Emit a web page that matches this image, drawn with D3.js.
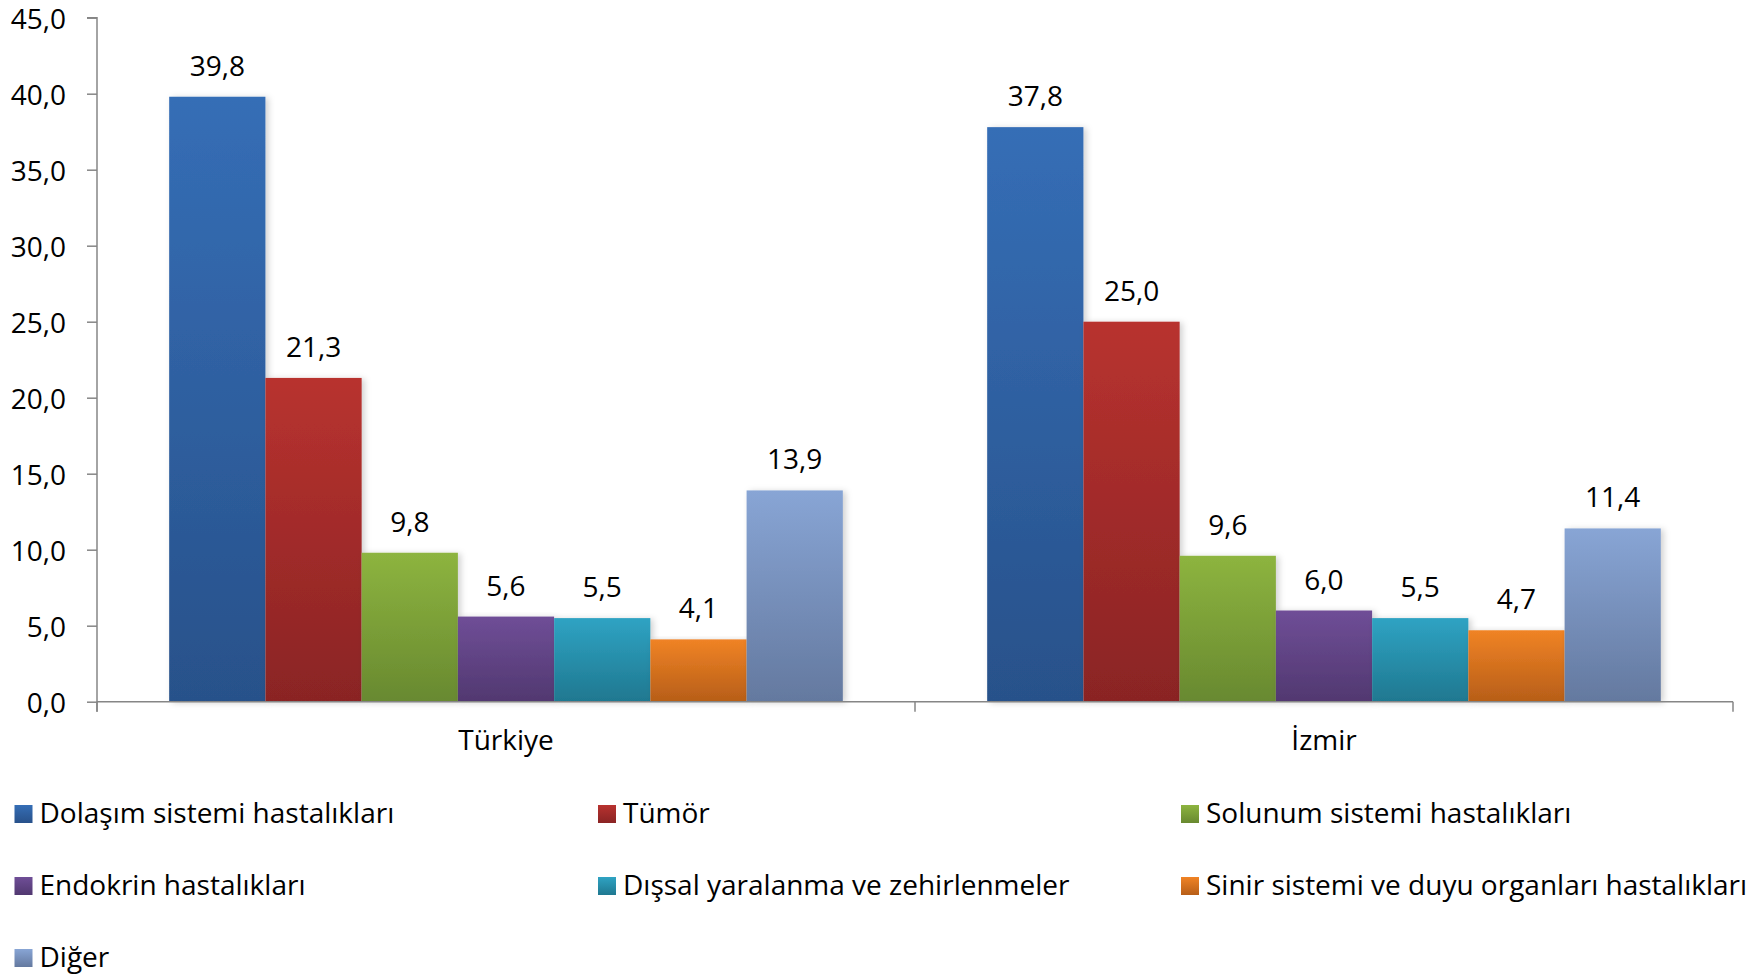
<!DOCTYPE html>
<html>
<head>
<meta charset="utf-8">
<script src="https://cdn.jsdelivr.net/npm/d3@7"></script>
<style>
  html, body { margin: 0; padding: 0; background: #fff; }
  svg { display: block; }
  text { font-family: "Open Sans", "Noto Sans", sans-serif; fill: #000; }
</style>
</head>
<body>
<svg id="chart" width="1755" height="975"></svg>
<script>
// ---- data ----
const categories = ["Türkiye", "İzmir"];
const seriesNames = [
  "Dolaşım sistemi hastalıkları",
  "Tümör",
  "Solunum sistemi hastalıkları",
  "Endokrin hastalıkları",
  "Dışsal yaralanma ve zehirlenmeler",
  "Sinir sistemi ve duyu organları hastalıkları",
  "Diğer"
];
const turkiyeValues = [39.8, 21.3, 9.8, 5.6, 5.5, 4.1, 13.9];
const izmirValues   = [37.8, 25.0, 9.6, 6.0, 5.5, 4.7, 11.4];
const yTicks = [0, 5, 10, 15, 20, 25, 30, 35, 40, 45];

// ---- styles ----
const colorsTop    = ["#356EB6", "#B8322F", "#8DB43F", "#6F4E97", "#2FA3C3", "#F08325", "#88A5D5"];
const colorsBottom = ["#28518A", "#8A2424", "#688930", "#513870", "#1F7890", "#B75E18", "#64799F"];
const fontSize = 28;

const svg = d3.select("#chart");
const defs = svg.append("defs");
seriesNames.forEach((s, i) => {
  const g = defs.append("linearGradient").attr("id", "grad" + i)
    .attr("x1", 0).attr("y1", 0).attr("x2", 0).attr("y2", 1);
  g.append("stop").attr("offset", "0%").attr("stop-color", colorsTop[i]);
  g.append("stop").attr("offset", "100%").attr("stop-color", colorsBottom[i]);
});
const f = defs.append("filter").attr("id", "shadow")
  .attr("x", "-10%").attr("y", "-5%").attr("width", "130%").attr("height", "115%");
f.append("feDropShadow").attr("dx", 3).attr("dy", 1).attr("stdDeviation", 3)
  .attr("flood-color", "#000").attr("flood-opacity", 0.18);

const plot = { left: 97, right: 1733, top: 17.7, bottom: 701.7 };

const y = d3.scaleLinear().domain([0, 45]).range([plot.bottom, plot.top]);
const x0 = d3.scaleBand().domain(categories).range([plot.left, plot.right]).padding(0);
const x1 = d3.scaleBand().domain(seriesNames).range([0, x0.bandwidth()])
  .paddingInner(0).paddingOuter(0.75);

const fmt = v => d3.format(".1f")(v).replace(".", ",");

// y axis
const yAxis = d3.axisLeft(y).tickValues(yTicks).tickSize(10).tickPadding(21).tickFormat(fmt);
const gy = svg.append("g").attr("transform", `translate(${plot.left},0)`).call(yAxis);
gy.select(".domain").attr("stroke", "#868686").attr("stroke-width", 1.5)
  .attr("d", `M-10,${plot.top}H0V${plot.bottom + 10}`);
gy.selectAll(".tick line").attr("stroke", "#868686").attr("stroke-width", 1.5);
gy.selectAll(".tick text").style("font-size", fontSize + "px")
  .style("font-family", "'Open Sans', sans-serif").attr("fill", "#000").attr("dy", "0.40em");

// bars
const data = [turkiyeValues, izmirValues];
const groups = svg.append("g").selectAll("g").data(categories).join("g")
  .attr("transform", d => `translate(${x0(d)},0)`);
groups.each(function(cat, ci) {
  const g = d3.select(this);
  const vals = data[ci].map((v, i) => ({ s: seriesNames[i], v, i }));
  g.selectAll("rect").data(vals).join("rect")
    .attr("x", d => x1(d.s))
    .attr("y", d => y(d.v))
    .attr("width", x1.bandwidth())
    .attr("height", d => y(0) - y(d.v))
    .attr("fill", d => `url(#grad${d.i})`)
    .attr("filter", "url(#shadow)");
  g.selectAll("text.lbl").data(vals).join("text").attr("class", "lbl")
    .attr("x", d => x1(d.s) + x1.bandwidth() / 2)
    .attr("y", d => y(d.v) - 21)
    .attr("text-anchor", "middle")
    .style("font-size", fontSize + "px")
    .text(d => fmt(d.v));
});

// x axis
const xAxis = d3.axisBottom(x0).tickSize(0).tickPadding(0);
const gx = svg.append("g").attr("transform", `translate(0,${plot.bottom})`).call(xAxis);
gx.select(".domain").attr("stroke", "#868686").attr("stroke-width", 1.5)
  .attr("d", `M${plot.left},0H${plot.right}`);
gx.selectAll(".tick text").style("font-size", fontSize + "px")
  .style("font-family", "'Open Sans', sans-serif").attr("fill", "#000")
  .attr("dy", 0).attr("y", 48);
// category boundary ticks
const bounds = [plot.left, ...categories.map(c => x0(c) + x0.bandwidth())];
gx.selectAll("line.bnd").data(bounds).join("line").attr("class", "bnd")
  .attr("x1", d => d).attr("x2", d => d).attr("y1", 0).attr("y2", 10)
  .attr("stroke", "#868686").attr("stroke-width", 1.5);

// legend
const legCols = [14.5, 598, 1181];
const legRows = [823, 895, 967];
const leg = svg.append("g").selectAll("g").data(seriesNames).join("g")
  .attr("transform", (d, i) => `translate(${legCols[i % 3]},${legRows[Math.floor(i / 3)]})`);
leg.append("rect").attr("x", 0).attr("y", -18).attr("width", 18).attr("height", 18)
  .attr("fill", (d, i) => `url(#grad${i})`);
leg.append("text").attr("x", 25).attr("y", 0)
  .style("font-size", fontSize + "px").text(d => d);
</script>
</body>
</html>
